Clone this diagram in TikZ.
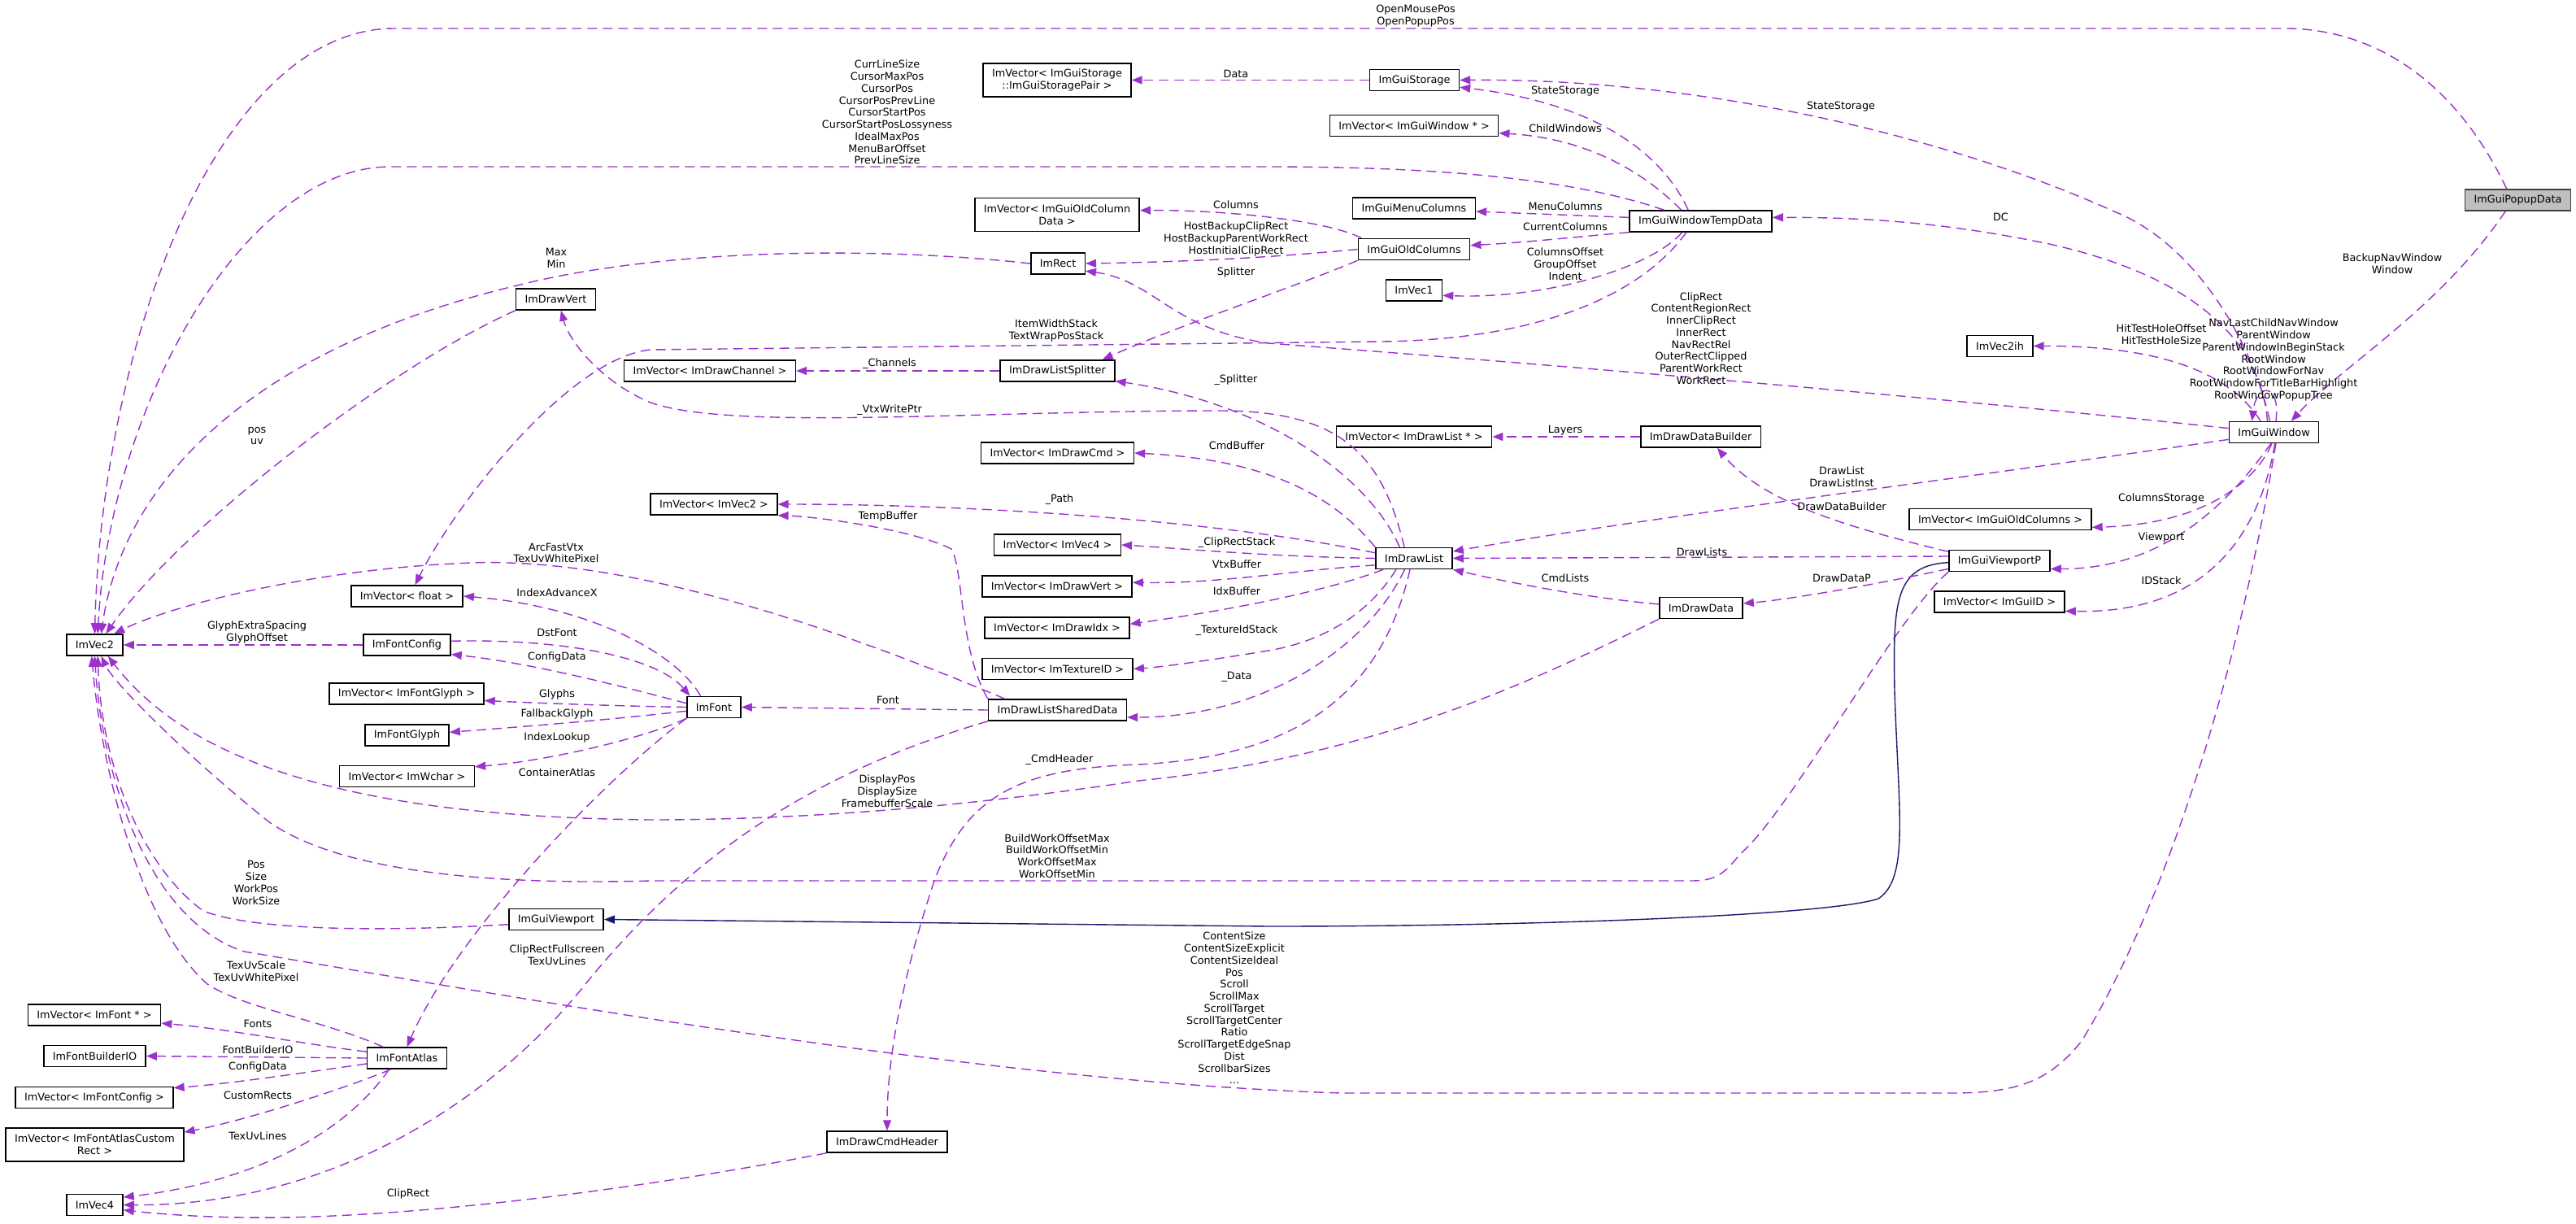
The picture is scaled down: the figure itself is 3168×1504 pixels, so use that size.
\documentclass[tikz,border=0pt]{standalone}
\usepackage{fontspec}
\setmainfont{DejaVu Sans}
\usepackage{tikz}
\usetikzlibrary{arrows.meta}
\definecolor{Edge}{HTML}{9A32CD}
\definecolor{Base}{HTML}{191970}
\definecolor{Focus}{HTML}{BFBFBF}
\definecolor{Frame}{HTML}{404040}

\begin{document}
\begin{tikzpicture}[
  x=1pt, y=-1pt,
  font=\fontsize{12.8}{14.75}\selectfont,
  cls/.style={draw=black, line width=1.5pt, fill=white, inner xsep=11pt, inner ysep=2pt, minimum height=26pt, align=center},
  cls2/.style={cls, minimum height=41pt},
  member/.style={draw=Edge, line width=1.4pt, dash pattern=on 12pt off 7pt, -{Triangle[length=13pt,width=10pt]}},
  inherit/.style={draw=Base, line width=1.4pt, -{Triangle[length=13pt,width=10pt]}},
  lbl/.style={inner sep=0pt, align=center}
]
\fill[white] (0,0) rectangle (3168,1504);
\useasboundingbox (0,0) rectangle (3168,1504);

\node[cls, fill=Focus, draw=Frame] (popup) at (3096.5,246) {ImGuiPopupData};
\node[cls] (window) at (2796.5,531.5) {ImGuiWindow};
\node[cls] (vecih) at (2459.5,425.5) {ImVec2ih};
\node[cls] (tempdata) at (2091.5,272) {ImGuiWindowTempData};
\node[cls] (storage) at (1739.5,98.5) {ImGuiStorage};
\node[cls2] (pairvec) at (1300,98.5) {ImVector< ImGuiStorage\\::ImGuiStoragePair >};
\node[cls] (winvec) at (1739,154.5) {ImVector< ImGuiWindow * >};
\node[cls] (menucols) at (1739,256) {ImGuiMenuColumns};
\node[cls] (oldcols) at (1739,306.5) {ImGuiOldColumns};
\node[cls] (vecone) at (1739,357) {ImVec1};
\node[cls2] (coldatavec) at (1300,264) {ImVector< ImGuiOldColumn\\Data >};
\node[cls] (imrect) at (1301,324) {ImRect};
\node[cls] (splitter) at (1300.5,456) {ImDrawListSplitter};
\node[cls] (chanvec) at (873,456) {ImVector< ImDrawChannel >};
\node[cls] (drawvert) at (683.5,368) {ImDrawVert};
\node[cls] (vectwo) at (116.5,793) {ImVec2};
\node[cls] (floatvec) at (500.5,733) {ImVector< float >};
\node[cls] (fontcfg) at (500.5,793) {ImFontConfig};
\node[cls] (glyphvec) at (500,853) {ImVector< ImFontGlyph >};
\node[cls] (fontglyph) at (500.5,904) {ImFontGlyph};
\node[cls] (wcharvec) at (500.5,954.5) {ImVector< ImWchar >};
\node[cls] (imfont) at (878,869.5) {ImFont};
\node[cls] (cmdvec) at (1300.5,557) {ImVector< ImDrawCmd >};
\node[cls] (vtwovec) at (878,620) {ImVector< ImVec2 >};
\node[cls] (vfourvec) at (1300.5,670) {ImVector< ImVec4 >};
\node[cls] (vertvec) at (1300,721) {ImVector< ImDrawVert >};
\node[cls] (idxvec) at (1300,772) {ImVector< ImDrawIdx >};
\node[cls] (texvec) at (1300.5,822.5) {ImVector< ImTextureID >};
\node[cls] (shared) at (1300.5,873) {ImDrawListSharedData};
\node[cls] (drawlist) at (1739,686.5) {ImDrawList};
\node[cls] (listvec) at (1739,537) {ImVector< ImDrawList * >};
\node[cls] (builder) at (2091.5,537) {ImDrawDataBuilder};
\node[cls] (drawdata) at (2092,747.5) {ImDrawData};
\node[cls] (colsvec) at (2460,638.5) {ImVector< ImGuiOldColumns >};
\node[cls] (vpp) at (2459,689.5) {ImGuiViewportP};
\node[cls] (idvec) at (2459,740) {ImVector< ImGuiID >};
\node[cls] (viewport) at (684,1130.5) {ImGuiViewport};
\node[cls] (fontvec) at (116,1248) {ImVector< ImFont * >};
\node[cls] (builderio) at (116.5,1298.5) {ImFontBuilderIO};
\node[cls] (cfgvec) at (116,1349.5) {ImVector< ImFontConfig >};
\node[cls2] (rectvec) at (116.5,1407.5) {ImVector< ImFontAtlasCustom\\Rect >};
\node[cls] (atlas) at (500.5,1301) {ImFontAtlas};
\node[cls] (vecfour) at (116.5,1481.5) {ImVec4};
\node[cls] (cmdheader) at (1091,1404) {ImDrawCmdHeader};

\draw[member] (popup.135) .. controls (3020,100) and (2920,35) .. (2810,35) -- (485,35) .. controls (270,35) and (125,420) .. (vectwo.90);
\draw[member] (tempdata.163) .. controls (1950,225) and (1800,205) .. (1560,205) -- (480,205) .. controls (300,205) and (135,500) .. (vectwo.75);
\draw[member] (imrect.west) .. controls (1050,300) and (800,310) .. (640,350) .. controls (300,430) and (150,600) .. (vectwo.60);
\draw[member] (drawvert.south west) .. controls (480,450) and (220,650) .. (vectwo.45);
\draw[member] (shared.168) .. controls (1000,760) and (750,680) .. (560,693) .. controls (400,700) and (220,740) .. (vectwo.30);
\draw[member] (fontcfg.west) -- (vectwo.east);
\draw[member] (atlas.155) .. controls (400,1255) and (300,1240) .. (255,1210) .. controls (175,1140) and (125,950) .. (vectwo.255);
\draw[member] (viewport.186) .. controls (430,1148) and (300,1140) .. (250,1120) .. controls (180,1070) and (125,950) .. (vectwo.285);
\draw[member] (window.280) .. controls (2740,900) and (2640,1150) .. (2560,1280) .. controls (2520,1330) and (2480,1344) .. (2400,1344) -- (1650,1344) .. controls (1200,1330) and (600,1220) .. (300,1170) .. controls (180,1130) and (125,950) .. (vectwo.270);
\draw[member] (vpp.south west) .. controls (2330,760) and (2200,1000) .. (2140,1050) .. controls (2120,1075) and (2110,1083) .. (2080,1083) -- (800,1083) .. controls (550,1090) and (400,1060) .. (330,1010) .. controls (230,930) and (140,840) .. (vectwo.300);
\draw[member] (drawdata.south west) .. controls (1900,830) and (1700,930) .. (1400,960) .. controls (1200,990) and (1000,1008) .. (800,1008) .. controls (500,1005) and (250,960) .. (vectwo.320);
\draw[inherit] (vpp.182) .. controls (2330,695) and (2328,740) .. (2330,850) .. controls (2335,1000) and (2348,1080) .. (2310,1105) .. controls (2250,1125) and (1900,1139) .. (1560,1139) -- (viewport.east);

\draw[member] (atlas.212) .. controls (420,1400) and (300,1455) .. (vecfour.15);
\draw[member] (shared.south west) .. controls (1000,950) and (850,1050) .. (720,1210) .. controls (600,1360) and (400,1483) .. (vecfour.east);
\draw[member] (cmdheader.south west) .. controls (800,1460) and (500,1500) .. (300,1497) .. controls (230,1496) and (180,1491) .. (vecfour.350);
\draw[member] (imfont.south west) .. controls (740,960) and (560,1150) .. (atlas.north);
\draw[member] (imfont.140) .. controls (830,800) and (720,745) .. (floatvec.east);
\draw[member] (tempdata.218) .. controls (2020,360) and (1900,417) .. (1700,420) -- (800,430) .. controls (700,440) and (560,620) .. (floatvec.54);
\draw[member] (window.175) .. controls (2300,480) and (1800,440) .. (1560,422) .. controls (1440,405) and (1420,345) .. (imrect.345);
\draw[member] (oldcols.west) .. controls (1550,318) and (1450,322) .. (imrect.east);
\draw[member] (oldcols.168) .. controls (1630,270) and (1500,258) .. (coldatavec.3);
\draw[member] (oldcols.south west) .. controls (1600,350) and (1450,400) .. (splitter.14);
\draw[member] (splitter.west) -- (chanvec.east);
\draw[member] (drawlist.142) .. controls (1680,580) and (1550,495) .. (splitter.350);
\draw[member] (drawlist.131) .. controls (1700,560) and (1650,505) .. (1500,505) .. controls (1200,505) and (900,530) .. (800,495) .. controls (740,470) and (700,420) .. (drawvert.295);
\draw[member] (drawlist.north west) .. controls (1640,610) and (1560,565) .. (cmdvec.east);
\draw[member] (drawlist.172) .. controls (1500,640) and (1200,620) .. (vtwovec.east);
\draw[member] (drawlist.180) .. controls (1550,684) and (1450,674) .. (vfourvec.east);
\draw[member] (drawlist.190) .. controls (1600,700) and (1500,718) .. (vertvec.3);
\draw[member] (drawlist.200) .. controls (1650,720) and (1550,745) .. (idxvec.3);
\draw[member] (drawlist.212) .. controls (1680,760) and (1620,790) .. (1560,800) .. controls (1480,813) and (1430,820) .. (texvec.east);
\draw[member] (drawlist.230) .. controls (1680,800) and (1550,882) .. (shared.354);
\draw[member] (drawlist.250) .. controls (1700,850) and (1600,930) .. (1400,940) .. controls (1250,945) and (1190,980) .. (1150,1080) .. controls (1110,1200) and (1091,1300) .. (cmdheader.north);
\draw[member] (shared.north west) .. controls (1180,800) and (1185,700) .. (1170,675) .. controls (1120,650) and (1000,635) .. (vtwovec.south east);
\draw[member] (shared.west) -- (imfont.east);
\draw[member] (fontcfg.5) .. controls (700,785) and (810,810) .. (imfont.155);
\draw[member] (imfont.172) .. controls (750,840) and (650,815) .. (fontcfg.348);
\draw[member] (imfont.west) .. controls (750,868) and (650,864) .. (glyphvec.355);
\draw[member] (imfont.188) .. controls (750,885) and (650,893) .. (fontglyph.4);
\draw[member] (imfont.south west) .. controls (800,905) and (680,935) .. (wcharvec.8);
\draw[member] (atlas.171) .. controls (380,1285) and (280,1265) .. (fontvec.353);
\draw[member] (atlas.west) -- (builderio.east);
\draw[member] (atlas.188) .. controls (380,1318) and (280,1333) .. (cfgvec.7);
\draw[member] (atlas.215) .. controls (420,1340) and (300,1378) .. (rectvec.8);

\draw[member] (storage.west) -- (pairvec.east);
\draw[member] (tempdata.138) .. controls (2040,180) and (1950,125) .. (storage.351);
\draw[member] (window.110) .. controls (2770,420) and (2700,300) .. (2600,260) .. controls (2400,170) and (2100,96) .. (storage.east);
\draw[member] (window.120) .. controls (2780,420) and (2700,340) .. (2520,300) .. controls (2400,275) and (2300,267) .. (tempdata.3);
\draw[member] (popup.222) .. controls (3000,380) and (2880,450) .. (window.33);
\draw[member] (window.140) .. controls (2750,470) and (2680,425) .. (vecih.east);
\draw[member] (window.80) .. controls (2805,470) and (2775,470) .. (window.153);
\draw[member] (window.189) .. controls (2400,590) and (2000,640) .. (drawlist.10);
\draw[member] (window.260) .. controls (2770,600) and (2700,645) .. (colsvec.355);
\draw[member] (window.255) .. controls (2740,620) and (2660,700) .. (vpp.351);
\draw[member] (window.275) .. controls (2780,650) and (2720,755) .. (idvec.352);
\draw[member] (vpp.175) -- (drawlist.east);
\draw[member] (vpp.189) .. controls (2300,720) and (2200,737) .. (drawdata.6);
\draw[member] (vpp.170) .. controls (2280,650) and (2170,620) .. (builder.326);
\draw[member] (builder.west) -- (listvec.east);
\draw[member] (drawdata.175) .. controls (1950,735) and (1850,715) .. (drawlist.south east);
\draw[member] (tempdata.150) .. controls (2020,210) and (1950,170) .. (winvec.355);
\draw[member] (tempdata.177) -- (menucols.357);
\draw[member] (tempdata.south west) .. controls (1950,290) and (1880,298) .. (oldcols.4);
\draw[member] (tempdata.211) .. controls (2030,330) and (1900,368) .. (vecone.350);

\node[lbl] (tOpen) at (1741,19.5) {OpenMousePos\\OpenPopupPos};
\node[lbl] (tCursor) at (1091,138) {CurrLineSize\\CursorMaxPos\\CursorPos\\CursorPosPrevLine\\CursorStartPos\\CursorStartPosLossyness\\IdealMaxPos\\MenuBarOffset\\PrevLineSize};
\node[lbl] (tData) at (1520,91) {Data};
\node[lbl] (tStateA) at (1925,112) {StateStorage};
\node[lbl] (tStateB) at (2264,131) {StateStorage};
\node[lbl] (tChild) at (1925,158) {ChildWindows};
\node[lbl] (tMenu) at (1925,254) {MenuColumns};
\node[lbl] (tCurCols) at (1925,279) {CurrentColumns};
\node[lbl] (tOffset) at (1925,324.5) {ColumnsOffset\\GroupOffset\\Indent};
\node[lbl] (tColumns) at (1520,252) {Columns};
\node[lbl] (tHost) at (1520,294) {HostBackupClipRect\\HostBackupParentWorkRect\\HostInitialClipRect};
\node[lbl] (tSplit) at (1520,335) {Splitter};
\node[lbl] (tMaxMin) at (684,317.5) {Max\\Min};
\node[lbl] (tItem) at (1299,406.5) {ItemWidthStack\\TextWrapPosStack};
\node[lbl] (tChannels) at (1094,447) {\_Channels};
\node[lbl] (tSplitB) at (1520,467) {\_Splitter};
\node[lbl] (tVtxPtr) at (1094,504) {\_VtxWritePtr};
\node[lbl] (tRects) at (2092,416) {ClipRect\\ContentRegionRect\\InnerClipRect\\InnerRect\\NavRectRel\\OuterRectClipped\\ParentWorkRect\\WorkRect};
\node[lbl] (tDC) at (2460.5,267) {DC};
\node[lbl] (tBackup) at (2942,324.5) {BackupNavWindow\\Window};
\node[lbl] (tHole) at (2658,411.5) {HitTestHoleOffset\\HitTestHoleSize};
\node[lbl] (tSelf) at (2796,442.5) {NavLastChildNavWindow\\ParentWindow\\ParentWindowInBeginStack\\RootWindow\\RootWindowForNav\\RootWindowForTitleBarHighlight\\RootWindowPopupTree};
\node[lbl] (tPosUv) at (316,536) {pos\\uv};
\node[lbl] (tLayers) at (1925,529) {Layers};
\node[lbl] (tDrawList) at (2265,586) {DrawList\\DrawListInst};
\node[lbl] (tBuilder) at (2265,623) {DrawDataBuilder};
\node[lbl] (tDrawLists) at (2093,679) {DrawLists};
\node[lbl] (tCmdLists) at (1925,711) {CmdLists};
\node[lbl] (tDataP) at (2265,711) {DrawDataP};
\node[lbl] (tColStore) at (2658,613) {ColumnsStorage};
\node[lbl] (tViewport) at (2658,661) {Viewport};
\node[lbl] (tIDStack) at (2658,714) {IDStack};
\node[lbl] (tCmdBuf) at (1521,548) {CmdBuffer};
\node[lbl] (tPath) at (1303,614) {\_Path};
\node[lbl] (tTemp) at (1092,635) {TempBuffer};
\node[lbl] (tClipStack) at (1521,667) {\_ClipRectStack};
\node[lbl] (tVtxBuf) at (1521,694) {VtxBuffer};
\node[lbl] (tIdxBuf) at (1521,727) {IdxBuffer};
\node[lbl] (tTexStack) at (1521,775) {\_TextureIdStack};
\node[lbl] (tDataB) at (1521,832) {\_Data};
\node[lbl] (tFont) at (1092,861) {Font};
\node[lbl] (tCmdHead) at (1303,934) {\_CmdHeader};
\node[lbl] (tDisplay) at (1091,972.5) {DisplayPos\\DisplaySize\\FramebufferScale};
\node[lbl] (tArc) at (684,680) {ArcFastVtx\\TexUvWhitePixel};
\node[lbl] (tAdvance) at (685,729) {IndexAdvanceX};
\node[lbl] (tGlyphSp) at (316,777.5) {GlyphExtraSpacing\\GlyphOffset};
\node[lbl] (tDst) at (685,778) {DstFont};
\node[lbl] (tCfgA) at (685,808) {ConfigData};
\node[lbl] (tGlyphs) at (685,854) {Glyphs};
\node[lbl] (tFallback) at (685,878) {FallbackGlyph};
\node[lbl] (tLookup) at (685,907) {IndexLookup};
\node[lbl] (tAtlas) at (685,950) {ContainerAtlas};
\node[lbl] (tWork) at (1300,1052.5) {BuildWorkOffsetMax\\BuildWorkOffsetMin\\WorkOffsetMax\\WorkOffsetMin};
\node[lbl] (tVpPos) at (315,1085.5) {Pos\\Size\\WorkPos\\WorkSize};
\node[lbl] (tFull) at (685,1174.5) {ClipRectFullscreen\\TexUvLines};
\node[lbl] (tUvScale) at (315,1194) {TexUvScale\\TexUvWhitePixel};
\node[lbl] (tContent) at (1518,1239.5) {ContentSize\\ContentSizeExplicit\\ContentSizeIdeal\\Pos\\Scroll\\ScrollMax\\ScrollTarget\\ScrollTargetCenter\\Ratio\\ScrollTargetEdgeSnap\\Dist\\ScrollbarSizes\\...};
\node[lbl] (tFonts) at (317,1259) {Fonts};
\node[lbl] (tBuilderIO) at (317,1291) {FontBuilderIO};
\node[lbl] (tCfgB) at (317,1312) {ConfigData};
\node[lbl] (tCustom) at (317,1347) {CustomRects};
\node[lbl] (tUvLines) at (317,1397) {TexUvLines};
\node[lbl] (tClip) at (502,1468) {ClipRect};
\end{tikzpicture}
\end{document}
